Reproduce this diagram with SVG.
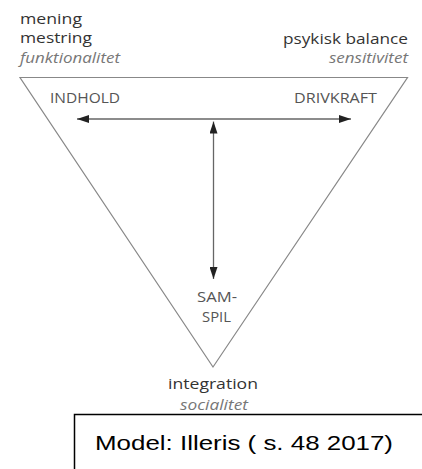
<svg xmlns="http://www.w3.org/2000/svg" width="422" height="469" viewBox="0 0 422 469">
<defs>
<marker id="ah" viewBox="0 0 12 8" refX="12" refY="4" markerWidth="12" markerHeight="8" markerUnits="userSpaceOnUse" orient="auto-start-reverse">
<path d="M0,0 L12,4 L0,8 Z" fill="#222"/>
</marker>
<style>
.lbl{font-family:"Open Sans","DejaVu Sans",sans-serif;fill:#333;}
.it{font-family:"Open Sans","DejaVu Sans",sans-serif;font-style:italic;fill:#777;}
.cap{font-family:"Open Sans","DejaVu Sans",sans-serif;fill:#555;font-size:14px;}
.tri{fill:none;stroke:#888;stroke-width:1.2;}
.arr{fill:none;stroke:#666;stroke-width:1.3;}
</style>
</defs>
<rect width="422" height="469" fill="#fff"/>
<g id="triangle">
<polygon class="tri" points="20,77.5 407.5,77.5 213,367"/>
</g>
<g id="connectors">
<line class="arr" x1="77" y1="119" x2="351" y2="119" marker-start="url(#ah)" marker-end="url(#ah)"/>
<line class="arr" x1="213.5" y1="121.5" x2="213.5" y2="279" marker-start="url(#ah)" marker-end="url(#ah)"/>
</g>
<g id="node-topleft">
<text class="lbl" x="20" y="24" font-size="15" textLength="62" lengthAdjust="spacingAndGlyphs">mening</text>
<text class="lbl" x="20" y="43" font-size="15" textLength="72" lengthAdjust="spacingAndGlyphs">mestring</text>
<text class="it" x="20" y="63" font-size="15" textLength="100" lengthAdjust="spacingAndGlyphs">funktionalitet</text>
</g>
<g id="node-topright">
<text class="lbl" x="283" y="44" font-size="15" textLength="125" lengthAdjust="spacingAndGlyphs">psykisk balance</text>
<text class="it" x="329" y="63" font-size="15" textLength="79" lengthAdjust="spacingAndGlyphs">sensitivitet</text>
</g>
<g id="node-indhold">
<text class="cap" x="50" y="103" textLength="70" lengthAdjust="spacingAndGlyphs">INDHOLD</text>
</g>
<g id="node-drivkraft">
<text class="cap" x="294" y="103" textLength="83" lengthAdjust="spacingAndGlyphs">DRIVKRAFT</text>
</g>
<g id="node-samspil">
<text class="cap" x="197" y="302" textLength="40" lengthAdjust="spacingAndGlyphs">SAM-</text>
<text class="cap" x="202" y="322" textLength="29" lengthAdjust="spacingAndGlyphs">SPIL</text>
</g>
<g id="node-bottom">
<text class="lbl" x="168" y="389" font-size="15" textLength="90" lengthAdjust="spacingAndGlyphs">integration</text>
<text class="it" x="180" y="410" font-size="14" textLength="68" lengthAdjust="spacingAndGlyphs">socialitet</text>
</g>
<g id="caption">
<rect x="74.5" y="414.5" width="400" height="100" fill="none" stroke="#000" stroke-width="1.5"/>
<text x="95" y="450" font-family="'Liberation Sans',Arial,sans-serif" font-size="21" fill="#000" textLength="298" lengthAdjust="spacingAndGlyphs">Model: Illeris ( s. 48 2017)</text>
</g>
</svg>
